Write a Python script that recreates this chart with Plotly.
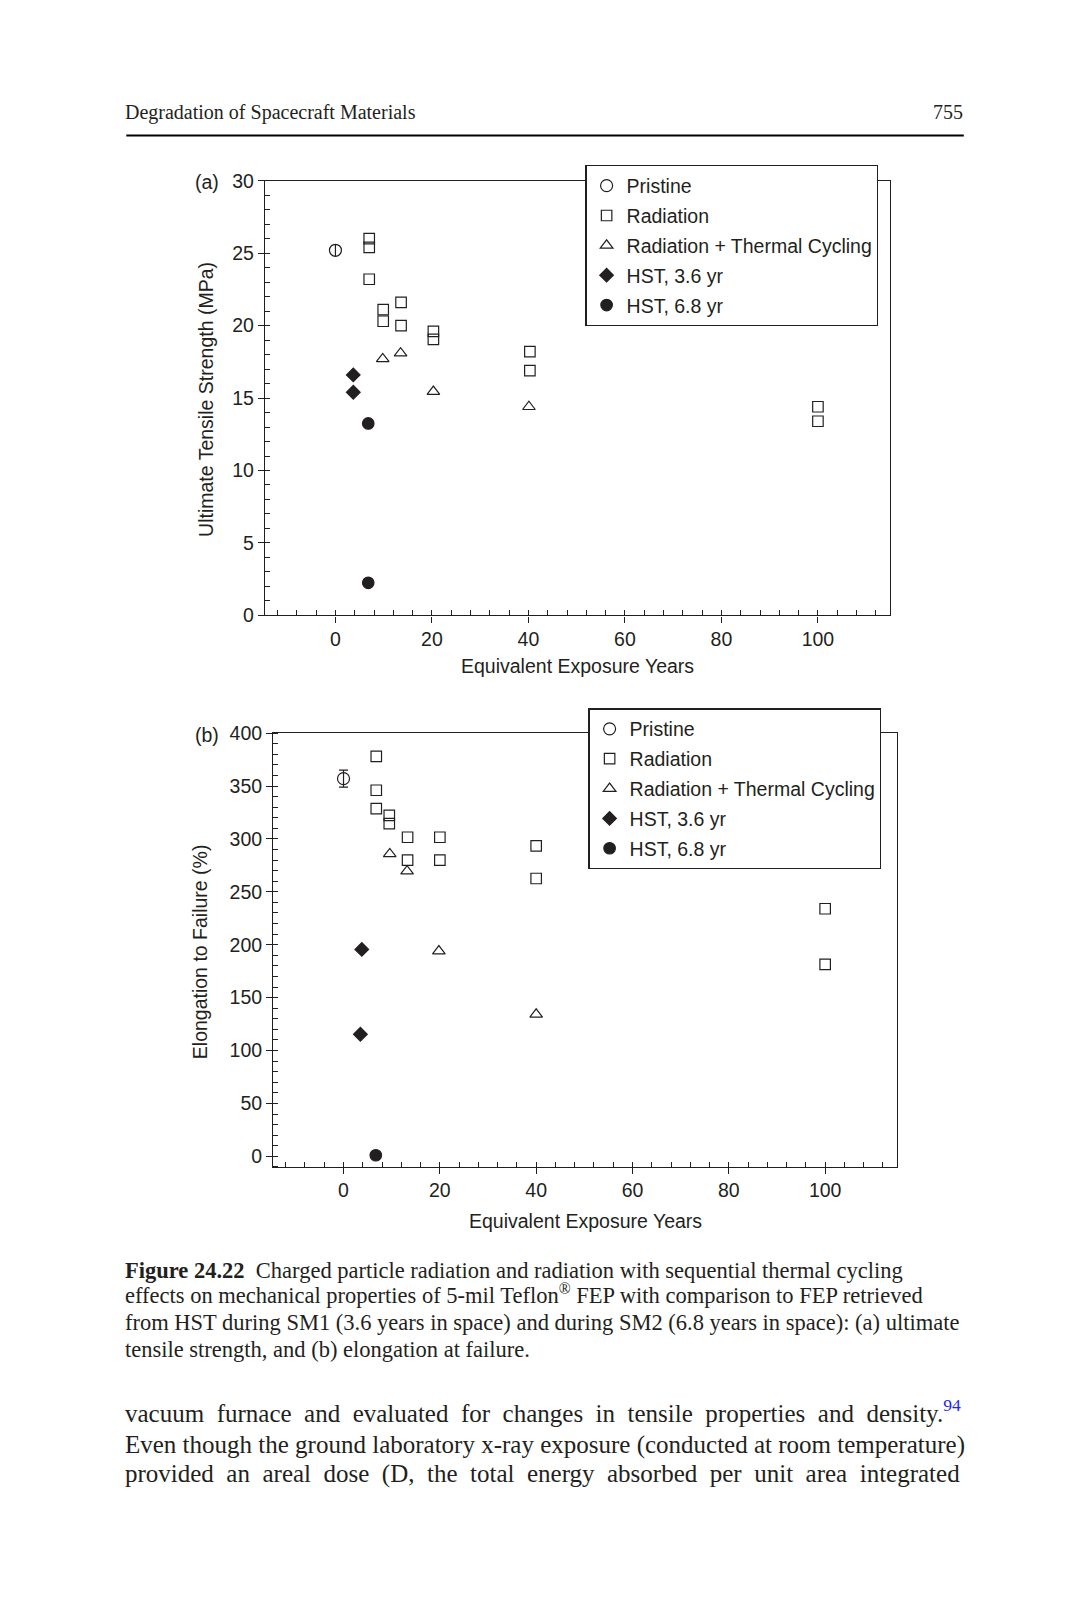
import plotly.graph_objects as go

W, H = 1067, 1600


def px(x):
    return x / W


def py(y):
    return 1 - y / H


# ---------------- data: (a) ultimate tensile strength (MPa) ----------------
pristine_a_x = [0]
pristine_a_y = [25.2]
pristine_a_err = [0.4]
radiation_a_x = [7, 7, 7, 9.9, 9.9, 13.6, 13.6, 20.3, 20.3, 40.3, 40.3, 100, 100]
radiation_a_y = [26.0, 25.4, 23.2, 21.1, 20.3, 21.6, 20.0, 19.6, 19.05, 18.2, 16.9, 14.4, 13.4]
rad_tc_a_x = [9.8, 13.5, 20.3, 40.1]
rad_tc_a_y = [17.7, 18.1, 15.45, 14.4]
hst36_a_x = [3.7, 3.7]
hst36_a_y = [16.6, 15.4]
hst68_a_x = [6.8, 6.8]
hst68_a_y = [13.25, 2.25]

# ---------------- data: (b) elongation to failure (%) ----------------
pristine_b_x = [0]
pristine_b_y = [357]
pristine_b_err = [8]
radiation_b_x = [6.8, 6.8, 6.8, 9.5, 9.5, 13.3, 13.3, 20, 20, 40, 40, 100, 100]
radiation_b_y = [378, 346, 328.6, 322.3, 314.5, 301.6, 279.9, 301.6, 279.9, 293.4, 262.6, 234, 181.4]
rad_tc_b_x = [9.6, 13.2, 19.8, 40]
rad_tc_b_y = [285.8, 269.5, 194, 134.2]
hst36_b_x = [3.8, 3.5]
hst36_b_y = [195.6, 115.4]
hst68_b_x = [6.7]
hst68_b_y = [1]

legend_names = ["Pristine", "Radiation", "Radiation + Thermal Cycling", "HST, 3.6 yr", "HST, 6.8 yr"]
x_ticks = [0, 20, 40, 60, 80, 100]

SANS = "Liberation Sans, Arial, sans-serif"
SERIF = "Liberation Serif, Times New Roman, serif"
INK = "#231f20"
FS = 19.5

fig = go.Figure()


def add_series(xs, ys, name, symbol, size, xa, ya, leg, err=None, errw=0):
    tr = dict(
        x=xs, y=ys, mode="markers", name=name,
        marker=dict(symbol=symbol, size=size, color=INK, line=dict(color=INK, width=1.2)),
        xaxis=xa, yaxis=ya, legend=leg, legendgroup=leg + name,
        hoverinfo="x+y",
    )
    if err is not None:
        tr["error_y"] = dict(type="data", array=err, visible=True, thickness=1.2,
                             width=errw, color=INK)
    fig.add_trace(go.Scatter(**tr))


# panel (a)
add_series(pristine_a_x, pristine_a_y, legend_names[0], "circle-open", 12, "x", "y", "legend", pristine_a_err, 0)
add_series(radiation_a_x, radiation_a_y, legend_names[1], "square-open", 10.5, "x", "y", "legend")
add_series(rad_tc_a_x, rad_tc_a_y, legend_names[2], "triangle-up-open", 11, "x", "y", "legend")
add_series(hst36_a_x, hst36_a_y, legend_names[3], "diamond", 10.5, "x", "y", "legend")
add_series(hst68_a_x, hst68_a_y, legend_names[4], "circle", 11.5, "x", "y", "legend")
# panel (b)
add_series(pristine_b_x, pristine_b_y, legend_names[0], "circle-open", 12, "x2", "y2", "legend2", pristine_b_err, 4.5)
add_series(radiation_b_x, radiation_b_y, legend_names[1], "square-open", 10.5, "x2", "y2", "legend2")
add_series(rad_tc_b_x, rad_tc_b_y, legend_names[2], "triangle-up-open", 11, "x2", "y2", "legend2")
add_series(hst36_b_x, hst36_b_y, legend_names[3], "diamond", 10.5, "x2", "y2", "legend2")
add_series(hst68_b_x, hst68_b_y, legend_names[4], "circle", 11.5, "x2", "y2", "legend2")

tickfont = dict(family=SANS, size=FS, color=INK)


def xaxis(domain, anchor, rng):
    return dict(
        domain=domain, anchor=anchor, range=rng, tickvals=x_ticks,
        ticks="outside", ticklen=6, tickwidth=1.2, tickcolor=INK,
        minor=dict(dtick=4, tick0=0, ticks="inside", ticklen=5, tickwidth=1.1, tickcolor=INK),
        showline=True, linecolor=INK, linewidth=1.3, mirror=True,
        showgrid=False, zeroline=False, tickfont=tickfont, ticklabelstandoff=0,
    )


def yaxis(domain, anchor, rng, dtick, minor_dtick, tick0):
    return dict(
        domain=domain, anchor=anchor, range=rng, dtick=dtick, tick0=0,
        ticks="outside", ticklen=6, tickwidth=1.2, tickcolor=INK,
        minor=dict(dtick=minor_dtick, tick0=tick0, ticks="inside", ticklen=5, tickwidth=1.1, tickcolor=INK),
        showline=True, linecolor=INK, linewidth=1.3, mirror=True,
        showgrid=False, zeroline=False, tickfont=tickfont, ticklabelstandoff=0,
    )


def x_inner(overlay, anchor, rng):
    return dict(overlaying=overlay, anchor=anchor, range=rng, tickvals=x_ticks,
                ticks="inside", ticklen=7, tickwidth=1.2, tickcolor=INK,
                showticklabels=False, showline=False, showgrid=False, zeroline=False)


def y_inner(overlay, anchor, rng, dtick):
    return dict(overlaying=overlay, anchor=anchor, range=rng, dtick=dtick, tick0=0,
                ticks="inside", ticklen=7, tickwidth=1.2, tickcolor=INK,
                showticklabels=False, showline=False, showgrid=False, zeroline=False)


XR = [-14.6, 115]
YRA = [0, 30]
YRB = [-10, 400]
dom_xa = [px(257), px(882.3)]
dom_ya = [py(604.7), py(164)]
dom_xb = [px(265.2), px(889.4)]
dom_yb = [py(1163.9), py(724.1)]

legend_common = dict(
    bgcolor="white", bordercolor=INK, borderwidth=1.3,
    font=dict(family=SANS, size=FS, color=INK),
    xanchor="left", yanchor="top", traceorder="grouped", tracegroupgap=1.5,
    itemsizing="trace",
)

fig.update_layout(
    width=W, height=H, margin=dict(l=0, r=0, t=0, b=0),
    paper_bgcolor="white", plot_bgcolor="rgba(0,0,0,0)",
    font=dict(family=SANS, size=FS, color=INK),
    showlegend=True,
    xaxis=xaxis(dom_xa, "y", XR),
    yaxis=yaxis(dom_ya, "x", YRA, 5, 1, 0),
    xaxis2=xaxis(dom_xb, "y2", XR),
    yaxis2=yaxis(dom_yb, "x2", YRB, 50, 10, 0),
    xaxis3=x_inner("x", "y", XR),
    yaxis3=y_inner("y", "x", YRA, 5),
    xaxis4=x_inner("x2", "y2", XR),
    yaxis4=y_inner("y2", "x2", YRB, 50),
    legend=dict(x=px(577.3), y=py(148.2), **legend_common),
    legend2=dict(x=px(580.3), y=py(699), **legend_common),
)

ann = []


def text(x, y, s, size, family, xanchor="left", angle=0, color=INK):
    ann.append(dict(x=px(x), y=py(y), xref="paper", yref="paper", text=s, showarrow=False,
                    xanchor=xanchor, yanchor="middle", textangle=angle,
                    font=dict(family=family, size=size, color=color)))


# page header
text(115.2, 94.7, "Degradation of Spacecraft Materials", 20, SERIF)
text(956.8, 94.7, "755", 20, SERIF, "right")

# panel labels and axis titles
text(213.3, 165, "(a)", FS, SANS, "right")
text(213.3, 726.3, "(b)", FS, SANS, "right")
text(197.8, 385.4, "Ultimate Tensile Strength (MPa)", FS, SANS, "center", -90)
text(192.8, 945.4, "Elongation to Failure (%)", FS, SANS, "center", -90)
text(569.3, 655.7, "Equivalent Exposure Years", FS, SANS, "center")
text(577.3, 1219, "Equivalent Exposure Years", FS, SANS, "center")

# caption
NB = "\u00a0"
cap = [
    "<b>Figure 24.22</b>" + NB + " Charged particle radiation and radiation with sequential thermal cycling",
    "effects on mechanical properties of 5-mil Teflon<sup>®</sup> FEP with comparison to FEP retrieved",
    "from HST during SM1 (3.6 years in space) and during SM2 (6.8 years in space): (a) ultimate",
    "tensile strength, and (b) elongation at failure.",
]
cap_y = [1269, 1292.4, 1322, 1349.5]
for s, yy in zip(cap, cap_y):
    text(115.2, yy, s, 22.5, SERIF)


def justify(s):
    return s.replace(" ", NB + " ")


body = [
    justify("vacuum furnace and evaluated for changes in tensile properties and density.")
    + "<sup><span style='color:#1f1fff'>94</span></sup>",
    "Even though the ground laboratory x-ray exposure (conducted at room temperature)",
    justify("provided an areal dose (D, the total energy absorbed per unit area integrated"),
]
body_y = [1411.6, 1445.4, 1475]
for s, yy in zip(body, body_y):
    text(115.2, yy, s, 25, SERIF)

fig.update_layout(
    annotations=ann,
    shapes=[dict(type="line", xref="paper", yref="paper", x0=px(118.3), x1=px(955.8),
                 y0=py(118), y1=py(118), line=dict(color="black", width=2))],
)

fig.write_html("out.html")
